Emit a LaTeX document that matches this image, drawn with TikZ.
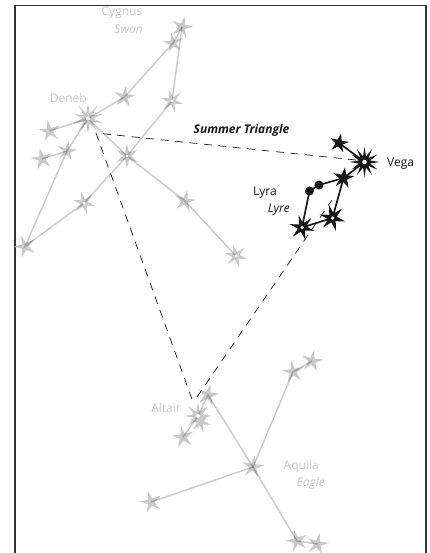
\documentclass[tikz,border=0pt]{standalone}
\usepackage{fontspec}
\setmainfont{Open Sans}
\usetikzlibrary{shapes.geometric}
\definecolor{gstar}{gray}{0.79}
\definecolor{gtext}{gray}{0.78}
\definecolor{ink}{gray}{0.09}
\tikzset{
  x=1pt,y=-1pt,
  sky/.style={star,draw=none,inner sep=0pt,outer sep=0pt},
  gs/.style={sky,fill=gstar,star points=#1,star point ratio=3.2,minimum size=23pt},
  gs/.default=5,
  bs/.style={sky,fill=ink,star points=#1,star point ratio=2.8,minimum size=21pt},
  bs/.default=5,
  hole/.style={circle,fill=white,inner sep=0pt,minimum size=3pt},
  dotstar/.style={circle,fill=ink,inner sep=0pt,minimum size=9pt},
  gline/.style={draw=black,draw opacity=.2,line width=1.5pt},
  bline/.style={draw=ink,line width=1.7pt},
  tri/.style={draw=ink,line width=.7pt,dash pattern=on 8pt off 6.5pt},
  glabel/.style={text=gtext,font=\fontsize{12}{14}\selectfont,inner sep=0pt},
  blabel/.style={text=ink,font=\fontsize{12}{14}\selectfont,inner sep=0pt},
}
\begin{document}
\begin{tikzpicture}
\useasboundingbox (0,0) rectangle (429,553);
\draw[draw=black!80,line width=1.6pt] (15,553) -- (15,5.5) -- (426,5.5) -- (426,553);
% Cygnus
\node[gs,shape border rotate=-15] (c1) at (182,27) {};
\node[gs,shape border rotate=10,minimum size=21pt] (c2) at (173,43) {};
\node[gs,shape border rotate=-8] (c3) at (124.5,97) {};
\node[gs=10,star point ratio=3,minimum size=32pt] (deneb) at (88,118.5) {};
\node[gs,shape border rotate=10] (c5) at (49.5,131) {};
\node[gs,shape border rotate=-10,minimum size=21pt] (c6) at (67,151) {};
\node[gs,shape border rotate=12] (c7) at (42,159) {};
\node[gs,shape border rotate=20] (c8) at (25,246.5) {};
\node[gs=6,shape border rotate=15,minimum size=24pt] (c9) at (84,203) {};
\node[gs=6,shape border rotate=0,minimum size=25pt] (c10) at (127,156) {};
\node[gs=6,shape border rotate=15,minimum size=24pt] (c11) at (172,101) {};
\node[gs,shape border rotate=-12] (c12) at (185,201) {};
\node[gs=6,shape border rotate=15,minimum size=24pt] (c13) at (236,256) {};
% Aquila
\node[gs,shape border rotate=-12] (a1) at (208,395) {};
\node[gs=8,star point ratio=3,minimum size=28pt] (altair) at (198,416) {};
\node[gs=6,shape border rotate=15,minimum size=22pt] (altairb) at (200.5,422) {};
\node[gs,shape border rotate=10] (a3) at (183,437) {};
\node[gs,shape border rotate=-8] (a4) at (253,467) {};
\node[gs,shape border rotate=15] (a5) at (151,502) {};
\node[gs,shape border rotate=8] (a6) at (293,372) {};
\node[gs,shape border rotate=-10] (a7) at (312,361) {};
\node[gs,shape border rotate=15] (a8) at (297,541) {};
\node[gs,shape border rotate=-12] (a9) at (317.5,544) {};
% Lyra
\node[bs,shape border rotate=-12,minimum size=20pt] (l1) at (339,143) {};
\node[bs=12,star point ratio=2.6,minimum size=30pt] (vega) at (364.5,162) {};
\node[bs,shape border rotate=-8,minimum size=22pt] (l3) at (343.5,178) {};
\node[dotstar] (d1) at (319,185) {};
\node[dotstar] (d2) at (309.5,191) {};
\node[bs=6,shape border rotate=15,star point ratio=3,minimum size=26pt] (l4) at (302,227.5) {};
\node[bs=6,shape border rotate=15,star point ratio=3,minimum size=27pt] (l5) at (332.5,218) {};
% Connectors
\draw[gline] (c1.center) -- (c2.center) -- (c3.center) -- (deneb.center) -- (c5.center);
\draw[gline] (c1.center) -- (c11.center) -- (c10.center) -- (c9.center) -- (c8.center) -- (c6.center) -- (deneb.center);
\draw[gline] (c6.center) -- (c7.center);
\draw[gline] (deneb.center) -- (c10.center) -- (c12.center) -- (c13.center);
\draw[gline] (a3.center) -- (altair.center) -- (a1.center) -- (a4.center) -- (a8.center) -- (a9.center);
\draw[gline] (a5.center) -- (a4.center) -- (a6.center) -- (a7.center);
\draw[bline] (l1.center) -- (vega.center) -- (l3.center) -- (d1.center) -- (d2.center) -- (l4.center) -- (l5.center) -- (l3.center);
% Star centres
\foreach \s/\d in {deneb/4,c9/3.5,c10/3,c11/3.5,c13/3.5,altair/4,vega/4.5,l4/3.5,l5/3.5}
  \node[hole,minimum size=\d pt] (h\s) at (\s) {};
% Summer Triangle
\coordinate (ta) at (96,133);
\coordinate (tb) at (356,160);
\coordinate (tc) at (193,402);
\coordinate (td) at (197,397);
\coordinate (te) at (332,200);
\draw[tri] (tb) -- (ta) -- (tc);
\draw[tri] (td) -- (te);
% Labels
\node[glabel,anchor=east] (cygnus) at (142.5,13) {Cygnus};
\node[glabel,anchor=east] (swan) at (143,29) {\itshape Swan};
\node[glabel,anchor=east] (denebt) at (87,98) {Deneb};
\node[blabel,anchor=center] (st) at (241.5,130) {\bfseries\itshape Summer Triangle};
\node[blabel,anchor=west] (vegat) at (387,163.5) {Vega};
\node[blabel,anchor=east] (lyra) at (277,193) {Lyra};
\node[blabel,anchor=east] (lyre) at (290,210) {\itshape Lyre};
\node[glabel,anchor=east] (altairt) at (181,408) {Altair};
\node[glabel,anchor=east] (aquila) at (319,466) {Aquila};
\node[glabel,anchor=east] (eagle) at (325,483) {\itshape Eagle};
\end{tikzpicture}
\end{document}
